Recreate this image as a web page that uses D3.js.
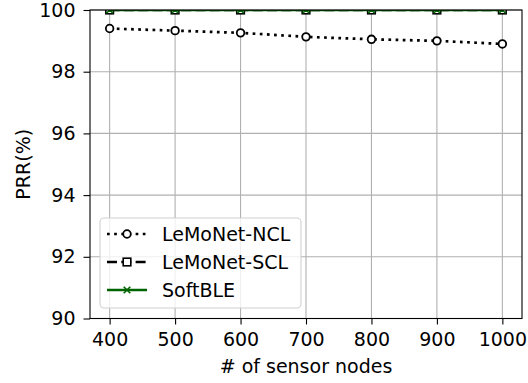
<!DOCTYPE html>
<html>
<head>
<meta charset="utf-8">
<script src="https://cdn.jsdelivr.net/npm/d3@7"></script>
<style>
  html, body { margin: 0; padding: 0; background: #fff; }
  svg { display: block; font-family: "DejaVu Sans", sans-serif; }
</style>
</head>
<body>
<svg id="chart" width="528" height="383"></svg>
<script>
// Packet reception ratio versus network size
const nodes = [400, 500, 600, 700, 800, 900, 1000];
const prrNCL = [99.4, 99.33, 99.26, 99.13, 99.05, 99.0, 98.9];
const prrSCL = [100, 100, 100, 100, 100, 100, 100];
const prrSoftBLE = [100, 100, 100, 100, 100, 100, 100];
const yTicks = [90, 92, 94, 96, 98, 100];
const seriesNames = ["LeMoNet-NCL", "LeMoNet-SCL", "SoftBLE"];

const W = 528, H = 383;
const m = { left: 90, right: 6, top: 10, bottom: 64.5 };
const svg = d3.select("#chart");

const x = d3.scaleLinear().domain([370, 1030]).range([m.left, W - m.right]);
const y = d3.scaleLinear().domain([90, 100]).range([H - m.bottom, m.top]);

const fontSize = 19;
const gridColor = "#b0b0b0";

// grid
const grid = svg.append("g");
grid.selectAll(".gx").data(nodes).join("line")
  .attr("x1", d => x(d)).attr("x2", d => x(d))
  .attr("y1", y.range()[0]).attr("y2", y.range()[1])
  .attr("stroke", gridColor).attr("stroke-width", 1.1);
grid.selectAll(".gy").data(yTicks).join("line")
  .attr("x1", x.range()[0]).attr("x2", x.range()[1])
  .attr("y1", d => y(d)).attr("y2", d => y(d))
  .attr("stroke", gridColor).attr("stroke-width", 1.1);

// axes
const xAxis = svg.append("g")
  .attr("transform", `translate(0,${y(90)})`)
  .call(d3.axisBottom(x).tickValues(nodes).tickSize(6).tickPadding(8.5).tickFormat(d3.format("d")));
const yAxis = svg.append("g")
  .attr("transform", `translate(${m.left},0)`)
  .call(d3.axisLeft(y).tickValues(yTicks).tickSize(6.5).tickPadding(8).tickFormat(d3.format("d")));
[xAxis, yAxis].forEach(g => {
  g.select(".domain").remove();
  g.selectAll(".tick line").attr("stroke", "#000").attr("stroke-width", 1.1);
  g.selectAll(".tick text").attr("fill", "#000").attr("font-size", fontSize)
    .attr("font-family", "DejaVu Sans, sans-serif");
});

// clip region for the data
svg.append("clipPath").attr("id", "plotClip").append("rect")
  .attr("x", x.range()[0]).attr("y", y.range()[1])
  .attr("width", x.range()[1] - x.range()[0])
  .attr("height", y.range()[0] - y.range()[1]);

const plot = svg.append("g").attr("clip-path", "url(#plotClip)");
const line = d3.line().x(d => x(d[0])).y(d => y(d[1]));
const zip = vals => nodes.map((n, i) => [n, vals[i]]);

const lw = 2.7;
const styles = [
  { vals: prrNCL, color: "#000", dash: `${lw * 1.0},${lw * 1.65}`, marker: "circle" },
  { vals: prrSCL, color: "#000", dash: `${lw * 3.7},${lw * 1.6}`, marker: "square" },
  { vals: prrSoftBLE, color: "#006400", dash: null, marker: "x" }
];

function drawMarker(g, kind, cx, cy, color) {
  if (kind === "circle") {
    g.append("circle").attr("cx", cx).attr("cy", cy).attr("r", 3.8)
      .attr("fill", "#fff").attr("stroke", color).attr("stroke-width", 1.8);
  } else if (kind === "square") {
    g.append("rect").attr("x", cx - 3.8).attr("y", cy - 3.8).attr("width", 7.6).attr("height", 7.6)
      .attr("fill", "#fff").attr("stroke", color).attr("stroke-width", 1.6);
  } else {
    const s = 3.3;
    g.append("path").attr("d", `M${cx - s},${cy - s}L${cx + s},${cy + s}M${cx - s},${cy + s}L${cx + s},${cy - s}`)
      .attr("stroke", color).attr("stroke-width", 1.6).attr("fill", "none");
  }
}

styles.forEach(s => {
  const p = plot.append("path").datum(zip(s.vals)).attr("d", line)
    .attr("fill", "none").attr("stroke", s.color).attr("stroke-width", lw);
  if (s.dash) p.attr("stroke-dasharray", s.dash);
  zip(s.vals).forEach(d => drawMarker(plot, s.marker, x(d[0]), y(d[1]), s.color));
});

// spines
svg.append("rect")
  .attr("x", x.range()[0]).attr("y", y.range()[1])
  .attr("width", x.range()[1] - x.range()[0])
  .attr("height", y.range()[0] - y.range()[1])
  .attr("fill", "none").attr("stroke", "#000").attr("stroke-width", 1.1);

// axis titles
svg.append("text").attr("x", (x.range()[0] + x.range()[1]) / 2).attr("y", 373)
  .attr("text-anchor", "middle").attr("font-size", fontSize).text("# of sensor nodes");
svg.append("text").attr("transform", `translate(30,${(y.range()[0] + y.range()[1]) / 2}) rotate(-90)`)
  .attr("text-anchor", "middle").attr("font-size", fontSize).text("PRR(%)");

// legend
const lg = svg.append("g");
lg.append("rect").attr("x", 100).attr("y", 218).attr("width", 201).attr("height", 90)
  .attr("rx", 4).attr("fill", "#fff").attr("fill-opacity", 0.8)
  .attr("stroke", "#d0d0d0").attr("stroke-width", 1.1);
styles.forEach((s, i) => {
  const cy = 234 + i * 28;
  const p = lg.append("line").attr("x1", 107).attr("x2", 147).attr("y1", cy).attr("y2", cy)
    .attr("stroke", s.color).attr("stroke-width", lw);
  if (s.dash) p.attr("stroke-dasharray", s.dash);
  drawMarker(lg, s.marker, 127, cy, s.color);
  lg.append("text").attr("x", 162).attr("y", cy + 7).attr("font-size", fontSize).text(seriesNames[i]);
});
</script>
</body>
</html>
